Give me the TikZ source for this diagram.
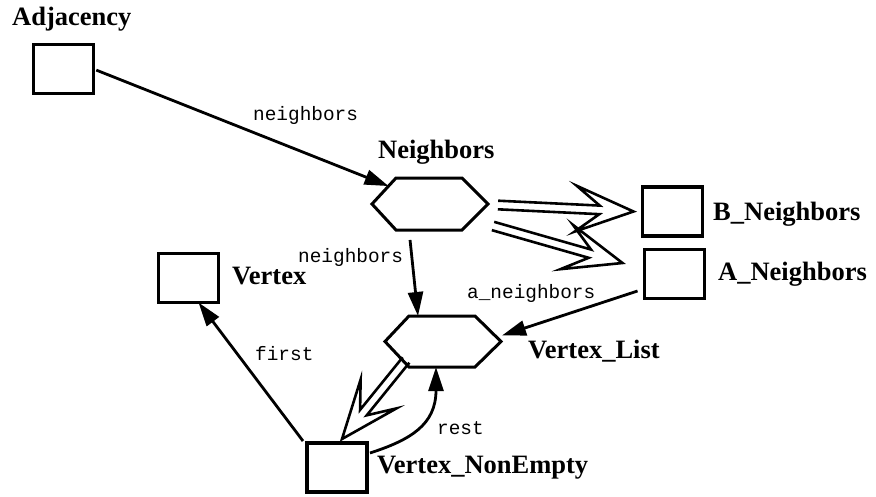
\documentclass[tikz,border=0pt]{standalone}
\usepackage{fontspec}
\setmainfont{Liberation Serif}
\setmonofont{Liberation Mono}
\usetikzlibrary{arrows.meta,calc}
\tikzset{
  box/.style={draw, line width=3.2pt, minimum width=60pt, minimum height=49pt, inner sep=0pt, outer sep=0pt},
  hexnode/.style={minimum width=116pt, minimum height=52pt, inner sep=0pt, outer sep=0pt},
  hexline/.style={line width=3pt, line join=miter},
  title/.style={font=\bfseries\fontsize{26.5}{30}\selectfont, anchor=base west, inner sep=0pt},
  role/.style={font=\ttfamily\fontsize{19.4}{22}\selectfont, anchor=base west, inner sep=0pt},
  arr/.style={line width=2.8pt, -{Triangle[length=24pt,width=15pt]}},
  hollow/.style={line width=2.6pt, line join=miter, miter limit=10},
}
\newcommand\hollowarr[2]{%
  \draw[hollow] let \p1=($(#2)-(#1)$), \n1={atan2(\y1,\x1)} in
    ($(#1)+(\n1+90:4.3pt)$) -- ($(#2)+(\n1+180:34pt)+(\n1+90:4.3pt)$)
    -- ($(#2)+(\n1+180:58pt)+(\n1+90:23pt)$) -- (#2)
    -- ($(#2)+(\n1+180:58pt)+(\n1-90:23pt)$)
    -- ($(#2)+(\n1+180:34pt)+(\n1-90:4.3pt)$) -- ($(#1)+(\n1-90:4.3pt)$);%
}
\begin{document}
\begin{tikzpicture}[x=1pt,y=-1pt]
\useasboundingbox (0,0) rectangle (876,496);
% boxes
\node[box] (adj) at (63.5,69) {};
\node[box] (bn) at (672.5,211.5) {};
\node[box] (an) at (674.5,274) {};
\node[box] (vx) at (188.5,278) {};
\node[box] (vne) at (337,467.5) {};
% hexagons
\node[hexnode] (nb) at (430,204) {};
\node[hexnode, minimum height=51pt] (vl) at (443,341.5) {};
\foreach \h in {nb,vl}
  \draw[hexline] (\h.west) -- ([xshift=24pt]\h.north west) -- ([xshift=-26pt]\h.north east)
    -- (\h.east) -- ([xshift=-26pt]\h.south east) -- ([xshift=24pt]\h.south west) -- cycle;
% titles
\node[title] (tAdj) at (12,25) {Adjacency};
\node[title] (tNb) at (378,158) {Neighbors};
\node[title] (tBn) at (713,220) {B\_Neighbors};
\node[title] (tAn) at (718,280) {A\_Neighbors};
\node[title] (tVx) at (232,284) {Vertex};
\node[title] (tVl) at (528,358) {Vertex\_List};
\node[title] (tVne) at (377,473) {Vertex\_NonEmpty};
% role labels
\node[role] (r1) at (253,120) {neighbors};
\node[role] (r2) at (298,262) {neighbors};
\node[role] (r3) at (467,298) {a\_neighbors};
\node[role] (r4) at (255,360) {first};
\node[role] (r5) at (437,434) {rest};
% connector end points
\coordinate (nbA) at ($(nb.west)!0.69!([xshift=24pt]nb.north west)$);
\coordinate (nbB) at ([xshift=-21pt]nb.south);
\coordinate (vlT) at ([xshift=-25pt]vl.north);
\coordinate (anS) at ([shift={(-7,17)}]an.west);
\coordinate (vlR) at ([shift={(1,-6)}]vl.east);
\coordinate (vneF) at ([shift={(-4,-2)}]vne.north west);
\coordinate (vxB) at ([xshift=10pt]vx.south);
\coordinate (vneR) at ([shift={(3,10)}]vne.north east);
\coordinate (vlB) at ([xshift=-7pt]vl.south);
\coordinate (h1s) at ([shift={(10,1)}]nb.east);
\coordinate (h1t) at ([shift={(-9,0)}]bn.west);
\coordinate (h2s) at ([shift={(5,22)}]nb.east);
\coordinate (h2t) at ([shift={(-22,-11)}]an.west);
\coordinate (h3s) at ([shift={(-37,-7)}]vl.south);
\coordinate (h3t) at ([shift={(5,-4)}]vne.north);
% role arrows
\draw[arr, shorten <=3pt] (adj.east) -- (nbA);
\draw[arr, shorten <=10pt] (nbB) -- (vlT);
\draw[arr] (anS) -- (vlR);
\draw[arr] (vneF) -- (vxB);
\draw[arr] (vneR) .. controls (410,440) and (436,425) .. (vlB);
% inheritance arrows
\hollowarr{h1s}{h1t}
\hollowarr{h2s}{h2t}
\hollowarr{h3s}{h3t}
\end{tikzpicture}
\end{document}
